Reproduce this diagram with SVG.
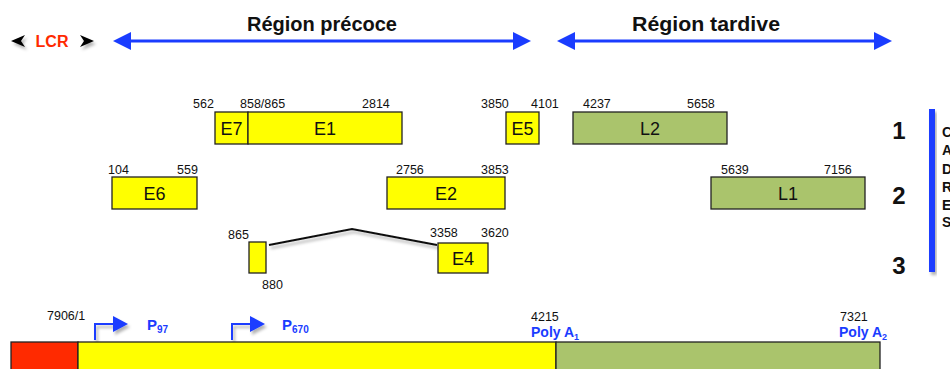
<svg xmlns="http://www.w3.org/2000/svg" width="950" height="369" viewBox="0 0 950 369">
<defs>
<style>
.box{stroke:#222;stroke-width:1.3}
.y{fill:#ffff00}
.g{fill:#aac46c}
.num{font-family:"Liberation Sans",Arial,sans-serif;font-size:12.5px;fill:#111}
.lab{font-family:"Liberation Sans",Arial,sans-serif;font-size:18px;fill:#111;text-anchor:middle}
.title{font-family:"Liberation Sans",Arial,sans-serif;font-size:20px;font-weight:bold;fill:#111;text-anchor:middle}
.blue{font-family:"Liberation Sans",Arial,sans-serif;font-weight:bold;fill:#1a3cff}
.big{font-family:"Liberation Sans",Arial,sans-serif;font-size:24px;font-weight:bold;fill:#111;text-anchor:middle}
.side{font-family:"Liberation Sans",Arial,sans-serif;font-size:14px;font-weight:bold;fill:#111}
</style>
<filter id="sh" x="-20%" y="-50%" width="140%" height="250%">
<feDropShadow dx="2" dy="3" stdDeviation="1.5" flood-color="#000" flood-opacity="0.3"/>
</filter>
</defs>
<rect width="950" height="369" fill="#fff"/>

<g id="titles">
<text class="title" x="322" y="31" textLength="150" lengthAdjust="spacingAndGlyphs">Région précoce</text>
<text class="title" x="706" y="31" textLength="148" lengthAdjust="spacingAndGlyphs">Région tardive</text>
<text x="52" y="47" font-family="Liberation Sans,Arial,sans-serif" font-size="16" font-weight="bold" fill="#ff2a00" text-anchor="middle">LCR</text>
</g>

<g id="connectors">
<g filter="url(#sh)" fill="#000">
<path d="M11,41 L25,35 L21,41 L25,47 Z"/>
<path d="M94,41 L80,35 L84,41 L80,47 Z"/>
</g>
<g fill="#1a3cff" stroke="none">
<rect x="128" y="39.5" width="389" height="3"/>
<path d="M113,41 L131,32 L131,50 Z"/>
<path d="M531,41 L513,32 L513,50 Z"/>
<rect x="572" y="39.5" width="306" height="3"/>
<path d="M557,41 L575,32 L575,50 Z"/>
<path d="M892,41 L874,32 L874,50 Z"/>
</g>
<polyline points="269,245 352,229 437,245" fill="none" stroke="#111" stroke-width="2" filter="url(#sh)"/>
<g filter="url(#sh)">
<polyline points="95,340 95,324 115,324" fill="none" stroke="#1a3cff" stroke-width="2"/>
<path d="M128,324 L113,316 L113,332 Z" fill="#1a3cff"/>
<polyline points="232,340 232,324 252,324" fill="none" stroke="#1a3cff" stroke-width="2"/>
<path d="M265,324 L250,316 L250,332 Z" fill="#1a3cff"/>
</g>
</g>

<g id="E7"><rect class="box y" x="215" y="112" width="33" height="32"/><text class="lab" x="231.5" y="135">E7</text></g>
<g id="E1"><rect class="box y" x="248" y="112" width="154" height="32"/><text class="lab" x="325" y="135">E1</text></g>
<g id="E5"><rect class="box y" x="506" y="112" width="33" height="32"/><text class="lab" x="522.5" y="135">E5</text></g>
<g id="L2"><rect class="box g" x="573" y="112" width="154" height="32"/><text class="lab" x="650" y="135">L2</text></g>
<g id="row1labels">
<text class="num" x="193" y="108">562</text>
<text class="num" x="240" y="108">858/865</text>
<text class="num" x="362" y="108">2814</text>
<text class="num" x="481" y="108">3850</text>
<text class="num" x="531" y="108">4101</text>
<text class="num" x="583" y="108">4237</text>
<text class="num" x="687" y="108">5658</text>
</g>

<g id="E6"><rect class="box y" x="112" y="177" width="85" height="32"/><text class="lab" x="154.5" y="200">E6</text></g>
<g id="E2"><rect class="box y" x="387" y="177" width="118" height="32"/><text class="lab" x="446" y="200">E2</text></g>
<g id="L1"><rect class="box g" x="711" y="177" width="154" height="32"/><text class="lab" x="788" y="200">L1</text></g>
<g id="row2labels">
<text class="num" x="108" y="174">104</text>
<text class="num" x="177" y="174">559</text>
<text class="num" x="396" y="174">2756</text>
<text class="num" x="481" y="174">3853</text>
<text class="num" x="721" y="174">5639</text>
<text class="num" x="824" y="174">7156</text>
</g>

<g id="exon865"><rect class="box y" x="249" y="242" width="17" height="31"/></g>
<g id="E4"><rect class="box y" x="438" y="243" width="50" height="30"/><text class="lab" x="463" y="265">E4</text></g>
<g id="row3labels">
<text class="num" x="228" y="239">865</text>
<text class="num" x="262" y="289">880</text>
<text class="num" x="430" y="237">3358</text>
<text class="num" x="481" y="237">3620</text>
</g>

<g id="genome">
<rect class="box" x="11" y="342" width="67" height="30" fill="#ff2a00"/>
<rect class="box y" x="78" y="342" width="478" height="30"/>
<rect class="box g" x="556" y="342" width="324" height="30"/>
</g>
<g id="genomelabels">
<text class="num" x="47" y="320">7906/1</text>
<text class="blue" x="147" y="330" font-size="15">P<tspan font-size="10" dy="3">97</tspan></text>
<text class="blue" x="282" y="330" font-size="15">P<tspan font-size="10" dy="3">670</tspan></text>
<text class="num" x="531" y="321">4215</text>
<text class="blue" x="531" y="337" font-size="14">Poly A<tspan font-size="9" dy="3">1</tspan></text>
<text class="num" x="840" y="321">7321</text>
<text class="blue" x="839" y="337" font-size="14">Poly A<tspan font-size="9" dy="3">2</tspan></text>
</g>

<g id="side">
<text class="big" x="899" y="139">1</text>
<text class="big" x="899" y="204">2</text>
<text class="big" x="899" y="274">3</text>
<rect x="929" y="109" width="6" height="163" fill="#1a3cff" filter="url(#sh)"/>
<text class="side" x="942" y="137">C</text>
<text class="side" x="942" y="155">A</text>
<text class="side" x="942" y="174">D</text>
<text class="side" x="942" y="192">R</text>
<text class="side" x="942" y="210">E</text>
<text class="side" x="942" y="227">S</text>
</g>
</svg>
